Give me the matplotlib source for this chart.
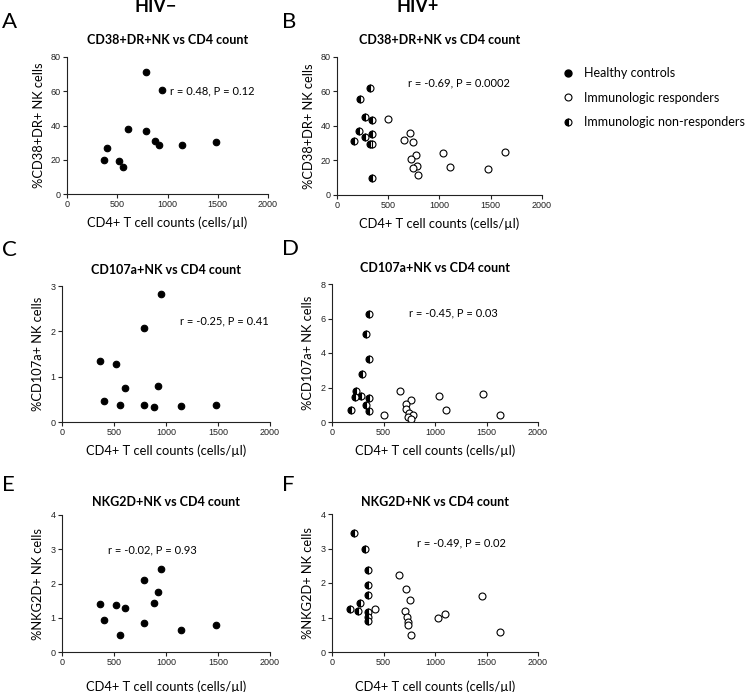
import numpy as np
import matplotlib
matplotlib.use("Agg")
import matplotlib.pyplot as plt
from matplotlib.lines import Line2D

plt.rcParams['font.family'] = ['Lato', 'DejaVu Sans']

# healthy controls (HIV-)
hc_cd4 = [365, 400, 515, 560, 605, 785, 785, 880, 920, 950, 1140, 1480]
hc_cd38 = [19.9, 27.1, 19.3, 15.6, 38.2, 71.0, 36.5, 30.8, 28.9, 60.5, 28.5, 30.6]
hc_cd107 = [1.34, 0.47, 1.27, 0.37, 0.74, 2.08, 0.37, 0.34, 0.80, 2.82, 0.35, 0.37]
hc_nkg2d = [1.41, 0.93, 1.36, 0.49, 1.29, 2.09, 0.86, 1.42, 1.75, 2.42, 0.63, 0.79]

# HIV+ panel B
inr_b_x = [320, 222, 271, 346, 212, 343, 278, 170, 320, 346, 346]
inr_b_y = [62.1, 55.9, 45.2, 43.7, 37.3, 35.1, 33.8, 31.1, 29.5, 29.5, 9.9]
ir_b_x = [500, 716, 657, 742, 768, 719, 778, 742, 788, 1039, 1106, 1470, 1636]
ir_b_y = [44.3, 35.9, 31.8, 30.7, 23.1, 21.0, 17.1, 15.5, 11.5, 24.5, 16.1, 15.3, 24.8]

# HIV+ panel D
inr_d_x = [355, 326, 355, 287, 232, 219, 277, 355, 329, 181, 355]
inr_d_y = [6.25, 5.13, 3.67, 2.78, 1.79, 1.46, 1.50, 1.42, 1.01, 0.70, 0.66]
ir_d_x = [500, 658, 765, 719, 723, 745, 790, 742, 771, 1039, 1110, 1470, 1635]
ir_d_y = [0.43, 1.77, 1.26, 1.05, 0.76, 0.54, 0.43, 0.31, 0.19, 1.50, 0.70, 1.65, 0.39]

# HIV+ panel F
inr_f_x = [210, 316, 348, 352, 348, 274, 174, 248, 348, 348, 348]
inr_f_y = [3.45, 2.99, 2.38, 1.95, 1.66, 1.42, 1.25, 1.19, 1.15, 1.02, 0.90]
ir_f_x = [419, 652, 716, 761, 713, 726, 739, 739, 768, 1032, 1100, 1460, 1629]
ir_f_y = [1.26, 2.24, 1.82, 1.50, 1.19, 1.02, 0.86, 0.79, 0.50, 1.00, 1.10, 1.62, 0.57]

titles = ["CD38+DR+NK vs CD4 count", "CD107a+NK vs CD4 count", "NKG2D+NK vs CD4 count"]
ylabels = ["%CD38+DR+ NK cells", "%CD107a+ NK cells", "%NKG2D+ NK cells"]
xlabel = "CD4+ T cell counts (cells/\u00b5l)"
stats = ["r = 0.48, P = 0.12", "r = -0.69, P = 0.0002",
         "r = -0.25, P = 0.41", "r = -0.45, P = 0.03",
         "r = -0.02, P = 0.93", "r = -0.49, P = 0.02"]
stat_pos = [(1025, 60.3), (693, 65.2), (1131, 2.24), (751, 6.31), (442, 2.99), (823, 3.16)]
letters = ["A", "B", "C", "D", "E", "F"]

W, H = 750, 692
fig = plt.figure(figsize=(7.5, 6.92), dpi=100)

# pixel boxes: left, top, right, bottom
boxes = [(67, 57, 268, 194), (337, 57, 542, 195),
         (62, 286, 270, 422), (332, 284, 538, 422),
         (62, 515, 270, 652), (332, 514, 538, 652)]
ylims = [80, 80, 3, 8, 4, 4]
yticks = [[0, 20, 40, 60, 80], [0, 20, 40, 60, 80], [0, 1, 2, 3],
          [0, 2, 4, 6, 8], [0, 1, 2, 3, 4], [0, 1, 2, 3, 4]]
xpads = [5, 5, 5, 5, 9.5, 9.5]
tpads = [9, 9, 9, 8.5, 6.5, 6]
ylpads = [4, 4, 5, 5, 5, 5]

axes = []
for i, (l, t, r, b) in enumerate(boxes):
    ax = fig.add_axes([l / W, 1 - b / H, (r - l) / W, (b - t) / H])
    ax.set_xlim(0, 2000)
    ax.set_ylim(0, ylims[i])
    ax.set_xticks([0, 500, 1000, 1500, 2000])
    ax.set_yticks(yticks[i])
    ax.spines['top'].set_visible(False)
    ax.spines['right'].set_visible(False)
    for s in ['left', 'bottom']:
        ax.spines[s].set_linewidth(0.8)
        ax.spines[s].set_color('#222222')
    ax.tick_params(length=3, width=0.8, pad=1.5, labelsize=6.5, colors='#222222')
    for lab in ax.get_xticklabels() + ax.get_yticklabels():
        lab.set_family('Liberation Sans')
    ax.set_title(titles[i // 2], fontsize=9, fontweight='bold', pad=tpads[i])
    ax.set_xlabel(xlabel, fontsize=9.3, labelpad=xpads[i])
    ax.set_ylabel(ylabels[i // 2], fontsize=9.3, labelpad=ylpads[i])
    ax.text(stat_pos[i][0], stat_pos[i][1], stats[i], fontsize=8, va='center', ha='left')
    axes.append(ax)

hc_sets = [hc_cd38, hc_cd107, hc_nkg2d]
for k in range(3):
    axes[2 * k].plot(hc_cd4, hc_sets[k], 'o', color='black', ms=4.7, mec='black', mew=0.8)

hiv_sets = [(inr_b_x, inr_b_y, ir_b_x, ir_b_y),
            (inr_d_x, inr_d_y, ir_d_x, ir_d_y),
            (inr_f_x, inr_f_y, ir_f_x, ir_f_y)]
for k, (nx, ny, rx, ry) in enumerate(hiv_sets):
    ax = axes[2 * k + 1]
    ax.plot(rx, ry, 'o', mfc='white', mec='black', ms=5, mew=0.8)
    ax.plot(nx, ny, 'o', fillstyle='left', mfc='black', mfcalt='white',
            mec='black', ms=5, mew=0.8)

# panel letters
for i, (l, t, r, b) in enumerate(boxes):
    x0 = 2 if i % 2 == 0 else 282
    y0 = [22, 22, 250, 249, 485, 485][i]
    fig.text(x0 / W, 1 - y0 / H, letters[i], fontsize=16, va='center', ha='left')

fig.text(156 / W, 1 - 7 / H, "HIV\u2212", fontsize=13, fontweight='bold', ha='center', va='center')
fig.text(418 / W, 1 - 7 / H, "HIV+", fontsize=13, fontweight='bold', ha='center', va='center')

handles = [
    Line2D([], [], ls='none', marker='o', color='black', ms=5),
    Line2D([], [], ls='none', marker='o', mfc='white', mec='black', ms=5, mew=0.8),
    Line2D([], [], ls='none', marker='o', fillstyle='left', mfc='black',
           mfcalt='white', mec='black', ms=5, mew=0.8),
]
fig.legend(handles, ["Healthy controls", "Immunologic responders", "Immunologic non-responders"],
           loc='upper left', bbox_to_anchor=(563 / W, 1 - 67 / H), frameon=False,
           fontsize=9, handlelength=0.8, handletextpad=0.9, labelspacing=1.0,
           borderpad=0, borderaxespad=0)

fig.savefig("out.png", dpi=100)
